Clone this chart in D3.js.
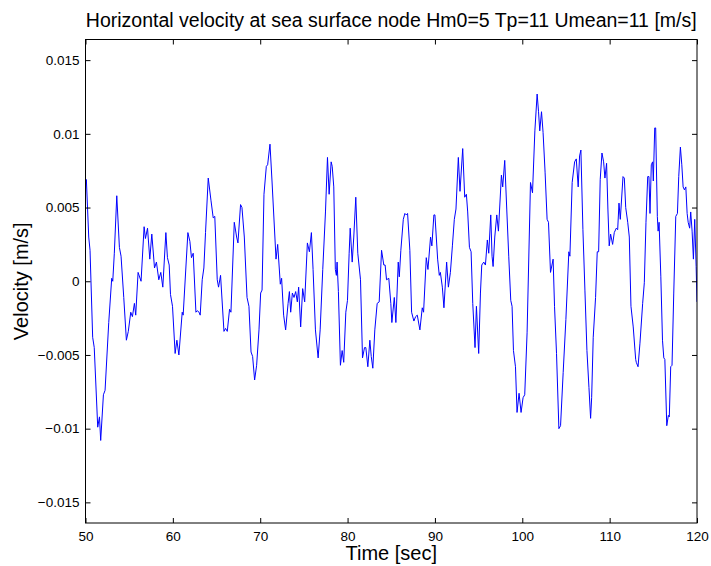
<!DOCTYPE html>
<html>
<head>
<meta charset="utf-8">
<script src="https://cdn.jsdelivr.net/npm/d3@7"></script>
<style>
  html, body { margin: 0; padding: 0; background: #fff; }
  svg { display: block; font-family: "Liberation Sans", Arial, Helvetica, sans-serif; }
</style>
</head>
<body>
<svg id="chart" width="711" height="566"></svg>
<script>
// ---- data ----
const title = "Horizontal velocity at sea surface node Hm0=5 Tp=11 Umean=11 [m/s]";
const xLabel = "Time [sec]";
const yLabel = "Velocity [m/s]";
const xTicks = [50, 60, 70, 80, 90, 100, 110, 120];
const yTicks = [-0.015, -0.01, -0.005, 0, 0.005, 0.01, 0.015];
const yTickLabels = ["\u22120.015", "\u22120.01", "\u22120.005", "0", "0.005", "0.01", "0.015"];

const time = [
  50.0, 50.1, 50.37, 50.52, 50.82, 51.0, 51.4, 51.6, 51.74, 52.05, 52.24, 52.66, 53.0, 53.12, 53.3, 53.58, 53.88, 54.07, 54.38, 54.68,
  54.9, 55.18, 55.37, 55.6, 55.75, 56.02, 56.36, 56.71, 56.86, 57.1, 57.36, 57.59, 57.9, 58.12, 58.39, 58.62, 58.85, 59.2, 59.38, 59.58,
  59.73, 59.96, 60.26, 60.46, 60.69, 61.07, 61.18, 61.72, 61.95, 62.13, 62.33, 62.64, 62.79, 63.0, 63.13, 63.36, 63.55, 63.74, 64.05, 64.36,
  64.62, 64.8, 65.08, 65.23, 65.46, 65.85, 66.03, 66.23, 66.49, 66.65, 67.03, 67.3, 67.45, 67.75, 67.91, 68.18, 68.49, 68.71, 68.95, 69.13,
  69.36, 69.59, 69.86, 70.05, 70.21, 70.43, 70.7, 70.85, 71.12, 71.35, 71.81, 72.0, 72.3, 72.45, 72.68, 72.91, 73.19, 73.34, 73.49, 73.68,
  73.87, 74.06, 74.25, 74.4, 74.63, 74.86, 75.09, 75.4, 75.63, 75.86, 76.05, 76.32, 76.63, 76.86, 77.16, 77.47, 77.7, 77.89, 78.12, 78.24,
  78.42, 78.6, 78.72, 78.8, 78.95, 79.18, 79.38, 79.56, 79.8, 79.99, 80.18, 80.3, 80.53, 80.71, 80.94, 81.17, 81.48, 81.71, 81.94, 82.09,
  82.32, 82.55, 82.71, 82.89, 83.12, 83.39, 83.62, 83.89, 84.15, 84.3, 84.46, 84.72, 84.95, 85.07, 85.35, 85.53, 85.8, 85.92, 86.1, 86.38,
  86.56, 86.72, 86.87, 87.13, 87.33, 87.59, 87.79, 87.98, 88.28, 88.55, 88.7, 89.01, 89.2, 89.5, 89.65, 89.88, 90.0, 90.31, 90.5, 90.62,
  90.85, 91.03, 91.34, 91.54, 91.77, 92.0, 92.22, 92.41, 92.68, 92.87, 93.18, 93.41, 93.6, 93.75, 93.95, 94.14, 94.33, 94.59, 94.75, 95.01,
  95.21, 95.36, 95.59, 95.78, 96.0, 96.16, 96.39, 96.54, 96.66, 96.85, 97.08, 97.27, 97.61, 97.76, 97.99, 98.22, 98.45, 98.68, 98.83, 98.99,
  99.22, 99.4, 99.63, 99.86, 100.09, 100.28, 100.55, 100.94, 101.17, 101.44, 101.7, 101.86, 102.0, 102.2, 102.38, 102.61, 102.84, 103.0, 103.23, 103.53,
  103.69, 103.92, 104.19, 104.38, 104.68, 104.99, 105.33, 105.45, 105.71, 105.99, 106.18, 106.4, 106.56, 106.71, 106.94, 107.17, 107.4, 107.63, 107.82, 107.94,
  108.12, 108.39, 108.58, 108.74, 108.92, 109.12, 109.31, 109.46, 109.65, 109.8, 109.95, 110.11, 110.34, 110.53, 110.76, 110.92, 111.07, 111.22, 111.53, 111.68,
  111.84, 112.07, 112.25, 112.44, 112.7, 112.98, 113.05, 113.25, 113.47, 113.78, 113.97, 114.16, 114.36, 114.5, 114.62, 114.77, 114.92, 115.0, 115.16, 115.27,
  115.46, 115.55, 115.66, 115.86, 116.05, 116.2, 116.32, 116.54, 116.72, 116.83, 116.99, 117.14, 117.34, 117.57, 117.76, 117.91, 118.1, 118.26, 118.41, 118.56,
  118.72, 118.87, 118.99, 119.16, 119.28, 119.44, 119.59, 119.74, 119.9, 120.0
];
const velocity = [
  0.0066, 0.0069, 0.0030, 0.0021, -0.0038, -0.0045, -0.0099, -0.0092, -0.0108, -0.0077, -0.0074, -0.0028, 0.0002, 0.0000, 0.0019, 0.0058, 0.0023, 0.0017, -0.0011, -0.0040,
  -0.0034, -0.0021, -0.0024, -0.0015, -0.0023, 0.0006, 0.0000, 0.0037, 0.0029, 0.0036, 0.0015, 0.0032, 0.0009, 0.0013, 0.0001, 0.0006, -0.0004, 0.0033, 0.0016, 0.0011,
  -0.0009, -0.0017, -0.0049, -0.0040, -0.0050, -0.0021, -0.0023, 0.0033, 0.0027, 0.0016, 0.0019, -0.0021, -0.0020, -0.0021, -0.0023, 0.0001, 0.0009, 0.0033, 0.0070, 0.0055,
  0.0043, 0.0044, 0.0001, -0.0004, 0.0004, -0.0034, -0.0032, -0.0034, -0.0019, -0.0021, 0.0040, 0.0030, 0.0026, 0.0052, 0.0050, 0.0030, -0.0011, -0.0017, -0.0048, -0.0051,
  -0.0067, -0.0057, -0.0033, -0.0008, -0.0006, 0.0059, 0.0078, 0.0079, 0.0093, 0.0068, 0.0015, 0.0025, -0.0002, 0.0002, -0.0023, -0.0033, -0.0015, -0.0007, -0.0021, -0.0008,
  -0.0011, -0.0007, -0.0014, -0.0004, -0.0031, -0.0005, -0.0014, 0.0026, 0.0020, 0.0033, 0.0008, -0.0033, -0.0052, -0.0033, 0.0008, 0.0047, 0.0084, 0.0059, 0.0081, 0.0078,
  0.0064, 0.0008, 0.0004, 0.0013, -0.0007, -0.0057, -0.0047, -0.0055, -0.0021, -0.0013, 0.0019, 0.0036, 0.0013, 0.0030, 0.0057, 0.0019, 0.0001, -0.0052, -0.0045, -0.0045,
  -0.0058, -0.0040, -0.0051, -0.0059, -0.0033, -0.0015, -0.0014, 0.0021, 0.0011, 0.0011, 0.0001, 0.0002, -0.0015, -0.0028, -0.0011, -0.0028, 0.0013, 0.0003, 0.0021, 0.0042,
  0.0046, 0.0045, 0.0046, 0.0021, -0.0021, -0.0027, -0.0024, -0.0023, -0.0033, -0.0018, -0.0021, 0.0016, 0.0008, 0.0030, 0.0024, 0.0045, 0.0045, 0.0015, 0.0004, 0.0006,
  -0.0004, -0.0018, 0.0013, -0.0004, 0.0006, 0.0024, 0.0042, 0.0049, 0.0084, 0.0061, 0.0090, 0.0057, 0.0059, 0.0047, 0.0023, 0.0020, -0.0015, -0.0045, -0.0017, -0.0049,
  -0.0008, 0.0011, 0.0013, 0.0011, 0.0028, 0.0019, 0.0045, 0.0017, 0.0010, 0.0030, 0.0045, 0.0034, 0.0072, 0.0064, 0.0082, 0.0049, 0.0017, -0.0013, -0.0017, -0.0047,
  -0.0058, -0.0089, -0.0076, -0.0089, -0.0079, -0.0077, -0.0035, 0.0067, 0.0060, 0.0102, 0.0127, 0.0115, 0.0102, 0.0115, 0.0101, 0.0074, 0.0042, 0.0040, 0.0006, 0.0015,
  -0.0017, -0.0049, -0.0100, -0.0098, -0.0062, -0.0026, 0.0020, 0.0017, 0.0067, 0.0081, 0.0083, 0.0064, 0.0085, 0.0089, 0.0035, -0.0006, -0.0047, -0.0072, -0.0093, -0.0079,
  -0.0038, -0.0011, 0.0020, 0.0020, 0.0069, 0.0087, 0.0081, 0.0070, 0.0080, 0.0049, 0.0024, 0.0032, 0.0025, 0.0033, 0.0036, 0.0035, 0.0053, 0.0042, 0.0071, 0.0070,
  0.0050, 0.0040, 0.0030, -0.0017, -0.0031, -0.0053, -0.0055, -0.0058, -0.0042, -0.0015, -0.0001, 0.0040, 0.0071, 0.0071, 0.0046, 0.0079, 0.0081, 0.0068, 0.0104, 0.0104,
  0.0044, 0.0034, 0.0040, 0.0003, -0.0040, -0.0052, -0.0053, -0.0098, -0.0091, -0.0092, -0.0058, -0.0057, -0.0008, 0.0044, 0.0046, 0.0071, 0.0091, 0.0079, 0.0064, 0.0062,
  0.0064, 0.0046, 0.0040, 0.0036, 0.0047, 0.0034, 0.0015, 0.0042, 0.0010, -0.0014
];

// ---- layout ----
const W = 711, H = 566;
const mLeft = 85.5, mRight = 697, mTop = 39.5, mBottom = 523;

const svg = d3.select("#chart");
const x = d3.scaleLinear().domain([50, 120]).range([mLeft, mRight]);
const y = d3.scaleLinear().domain([-0.0164, 0.0164]).range([mBottom, mTop]);

const series = time.map((t, i) => ({ t, v: velocity[i] }));

// clip
svg.append("defs").append("clipPath").attr("id", "clip")
  .append("rect").attr("x", mLeft).attr("y", mTop).attr("width", mRight - mLeft).attr("height", mBottom - mTop);

// line
const line = d3.line().x(d => x(d.t)).y(d => y(d.v));
svg.append("path")
  .datum(series)
  .attr("clip-path", "url(#clip)")
  .attr("fill", "none")
  .attr("stroke", "#0000ff")
  .attr("stroke-width", 1)
  .attr("stroke-linejoin", "round")
  .attr("d", line);

// axes (ticks inward, MATLAB style box)
const fmtY = v => yTickLabels[yTicks.indexOf(v)];
const axB = svg.append("g").attr("transform", `translate(0,${mBottom})`)
  .call(d3.axisBottom(x).tickValues(xTicks).tickSizeInner(-5).tickSizeOuter(0).tickPadding(8).tickFormat(d3.format("d")));
const axT = svg.append("g").attr("transform", `translate(0,${mTop})`)
  .call(d3.axisTop(x).tickValues(xTicks).tickSizeInner(-5).tickSizeOuter(0).tickFormat(""));
const axL = svg.append("g").attr("transform", `translate(${mLeft},0)`)
  .call(d3.axisLeft(y).tickValues(yTicks).tickSizeInner(-5).tickSizeOuter(0).tickPadding(6).tickFormat(fmtY));
const axR = svg.append("g").attr("transform", `translate(${mRight},0)`)
  .call(d3.axisRight(y).tickValues(yTicks).tickSizeInner(-5).tickSizeOuter(0).tickFormat(""));

[axB, axT, axL, axR].forEach(g => {
  g.select(".domain").remove();
  g.selectAll(".tick line").attr("stroke", "#000").attr("stroke-width", 1);
  g.selectAll("text").attr("fill", "#000").attr("font-size", 13.5)
    .attr("font-family", "'Liberation Sans', Arial, Helvetica, sans-serif");
});

// box
svg.append("rect")
  .attr("x", mLeft).attr("y", mTop)
  .attr("width", mRight - mLeft).attr("height", mBottom - mTop)
  .attr("fill", "none").attr("stroke", "#000").attr("stroke-width", 1);

// title & labels
svg.append("text")
  .attr("x", (mLeft + mRight) / 2).attr("y", 27)
  .attr("text-anchor", "middle").attr("font-size", 19.5).attr("fill", "#000")
  .text(title);

svg.append("text")
  .attr("x", (mLeft + mRight) / 2).attr("y", 560)
  .attr("text-anchor", "middle").attr("font-size", 20).attr("fill", "#000")
  .text(xLabel);

svg.append("text")
  .attr("transform", `translate(28,${(mTop + mBottom) / 2}) rotate(-90)`)
  .attr("text-anchor", "middle").attr("font-size", 20).attr("fill", "#000")
  .text(yLabel);
</script>
</body>
</html>
